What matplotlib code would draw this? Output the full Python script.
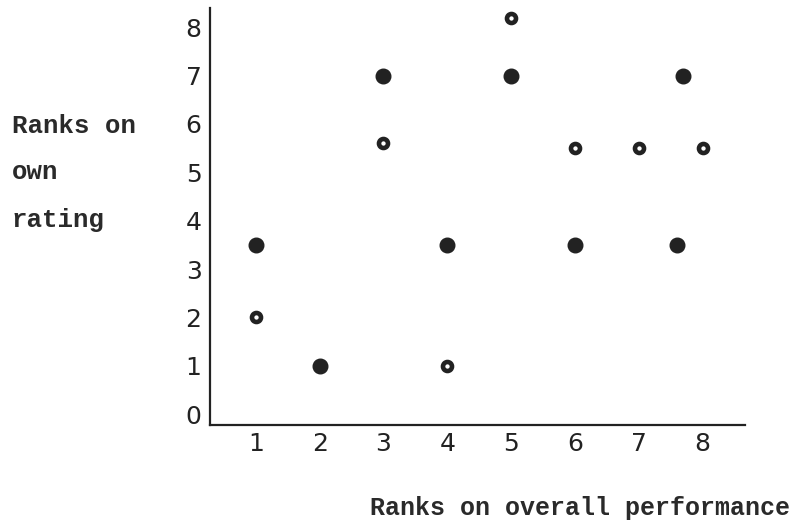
import matplotlib.pyplot as plt

# data
filled_x = [1, 2, 3, 4, 5, 6, 7.7, 7.6]
filled_y = [3.5, 1, 7, 3.5, 7, 3.5, 7, 3.5]
open_x = [1, 3, 4, 5, 6, 7, 8]
open_y = [2, 5.6, 1, 8.2, 5.5, 5.5, 5.5]
xticks = [1, 2, 3, 4, 5, 6, 7, 8]
yticks = [0, 1, 2, 3, 4, 5, 6, 7, 8]

fig = plt.figure(figsize=(7.92, 5.25), dpi=100)
ax = fig.add_axes([0.265, 0.19, 0.676, 0.795])

ax.plot(filled_x, filled_y, 'o', color='#222222', markersize=10.5, linestyle='none')
ax.plot(open_x, open_y, 'o', markerfacecolor='white', markeredgecolor='#222222',
        markersize=6.5, markeredgewidth=3.3, linestyle='none')

ax.set_xlim(0.28, 8.67)
ax.set_ylim(-0.23, 8.4)
ax.set_xticks(xticks)
ax.set_yticks(yticks)
ax.tick_params(length=0, labelsize=18, colors='#222222')
ax.tick_params(axis='y', pad=6)
ax.tick_params(axis='x', pad=5)

for s in ['top', 'right']:
    ax.spines[s].set_visible(False)
for s in ['left', 'bottom']:
    ax.spines[s].set_linewidth(1.6)
    ax.spines[s].set_color('#222222')

mono = 'Liberation Mono'
for txt, ypix in [('Ranks on', 126), ('own', 172), ('rating', 220)]:
    fig.text(12 / 792, 1 - ypix / 525, txt, family=mono, fontsize=18.5,
             weight='bold', va='center', ha='left', color='#2a2a2a')
fig.text(580 / 792, 1 - 508 / 525, 'Ranks on overall performance', family=mono,
         fontsize=18, weight='bold', va='center', ha='center', color='#2a2a2a')

fig.savefig('out.png', dpi=100)
